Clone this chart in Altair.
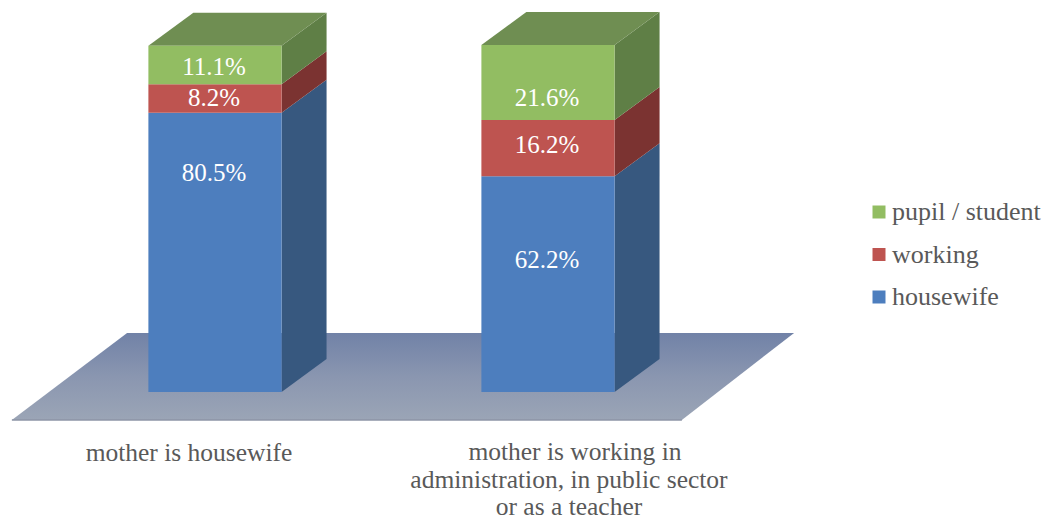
import altair as alt
import pandas as pd

categories = ["mother is housewife", "mother is working in administration"]
series = ["housewife", "working", "pupil / student"]
housewife = [80.5, 62.2]
working = [8.2, 16.2]
pupil = [11.1, 21.6]
label_pos = {"housewife": [63.1, 38.0], "working": [84.7, 71.2], "pupil / student": [93.7, 84.7]}
front_colors = ["#4D7EBE", "#BE5450", "#92BD62"]
side_colors = ["#37587F", "#7B3331", "#5F7F46"]
cat_lines = [
    ("mother is housewife", -0.078, -17.6),
    ("mother is working in", 1.081, -17.3),
    ("administration, in public sector", 1.063, -25.4),
    ("or as a teacher", 1.063, -33.0),
]
floor_x = [-0.61, -0.264, 1.402, 1.739]
floor_top = [-8.07, 17.0, 17.0, 17.0]
floor_bottom = [-8.07, -8.07, -8.07, 17.0]

HALF = 0.2
DX = 0.135
DY = 9.5
FONT = "Liberation Serif"

front, side, top, labels = [], [], [], []
for b in range(2):
    base = 0.0
    for s, vals in zip(series, [housewife, working, pupil]):
        v = vals[b]
        L, R = b - HALF, b + HALF
        front.append(dict(series=s, x=L, x2=R, y=base, y2=base + v))
        side.append(dict(key=f"{b}{s}", series=s, x=R, y=base + v, y2=base))
        side.append(dict(key=f"{b}{s}", series=s, x=R + DX, y=base + v + DY, y2=base + DY))
        labels.append(dict(x=b - 0.003, y=label_pos[s][b], t=f"{v}%"))
        base += v
    t = base
    for px, a, c in [(L, t, t), (L + DX, t + DY, t), (R, t + DY, t), (R + DX, t + DY, t + DY)]:
        top.append(dict(key=b, x=px, y=a, y2=c))

X = alt.Scale(domain=[-0.6216, 2.5045], nice=False, zero=False)
Y = alt.Scale(domain=[-36.89, 110.66], nice=False, zero=False)
xq = alt.X("x:Q", scale=X, axis=None)
yq = alt.Y("y:Q", scale=Y, axis=None, stack=None)

floor_df = pd.DataFrame(dict(x=floor_x, y=floor_top, y2=floor_bottom))
floor = alt.Chart(floor_df).mark_area(
    orient="vertical",
    color=alt.LinearGradient(
        gradient="linear", x1=0, x2=0, y1=0, y2=1,
        stops=[alt.GradientStop(color="#7182A7", offset=0),
               alt.GradientStop(color="#8A96B0", offset=0.5),
               alt.GradientStop(color="#9BA5B6", offset=1)],
    )
).encode(x=xq, y=yq, y2="y2:Q")

floor_edge = alt.Chart(pd.DataFrame(dict(x=floor_x[:3], y=floor_bottom[:3]))).mark_line(
    color="#8C94A6", strokeWidth=1.5
).encode(x=xq, y=yq)

side_layer = alt.Chart(pd.DataFrame(side)).mark_area(orient="vertical").encode(
    x=xq, y=yq, y2="y2:Q", detail="key:N",
    color=alt.Color("series:N", scale=alt.Scale(domain=series, range=side_colors), legend=None),
)

top_layer = alt.Chart(pd.DataFrame(top)).mark_area(orient="vertical", color="#6F8E52").encode(
    x=xq, y=yq, y2="y2:Q", detail="key:N"
)

front_layer = alt.Chart(pd.DataFrame(front)).mark_rect().encode(
    x=xq, x2="x2:Q", y=yq, y2="y2:Q",
    color=alt.Color(
        "series:N",
        scale=alt.Scale(domain=series[::-1], range=front_colors[::-1]),
        legend=alt.Legend(
            title=None, orient="none", legendX=858, legendY=191,
            symbolType="square", symbolSize=169, symbolStrokeWidth=0,
            labelFont=FONT, labelFontSize=26, labelColor="#595959",
            labelOffset=0, rowPadding=16.5, symbolOpacity=1,
        ),
    ),
)

label_layer = alt.Chart(pd.DataFrame(labels)).mark_text(
    font=FONT, fontSize=25, color="white", align="center", baseline="middle"
).encode(x=xq, y=yq, text="t:N")

cat_df = pd.DataFrame(cat_lines, columns=["t", "x", "y"])
cat_layer = alt.Chart(cat_df).mark_text(
    font=FONT, fontSize=25.5, color="#595959", align="center", baseline="middle"
).encode(x=xq, y=yq, text="t:N")

chart = alt.layer(
    floor, floor_edge, side_layer, top_layer, front_layer, label_layer, cat_layer
).resolve_scale(color="independent").properties(
    width=1041, height=512, padding=0, autosize=alt.AutoSizeParams(type="none"),
    background="white",
).configure_view(stroke=None)

chart.save("out.html", embed_options={"renderer": "svg", "actions": False})
